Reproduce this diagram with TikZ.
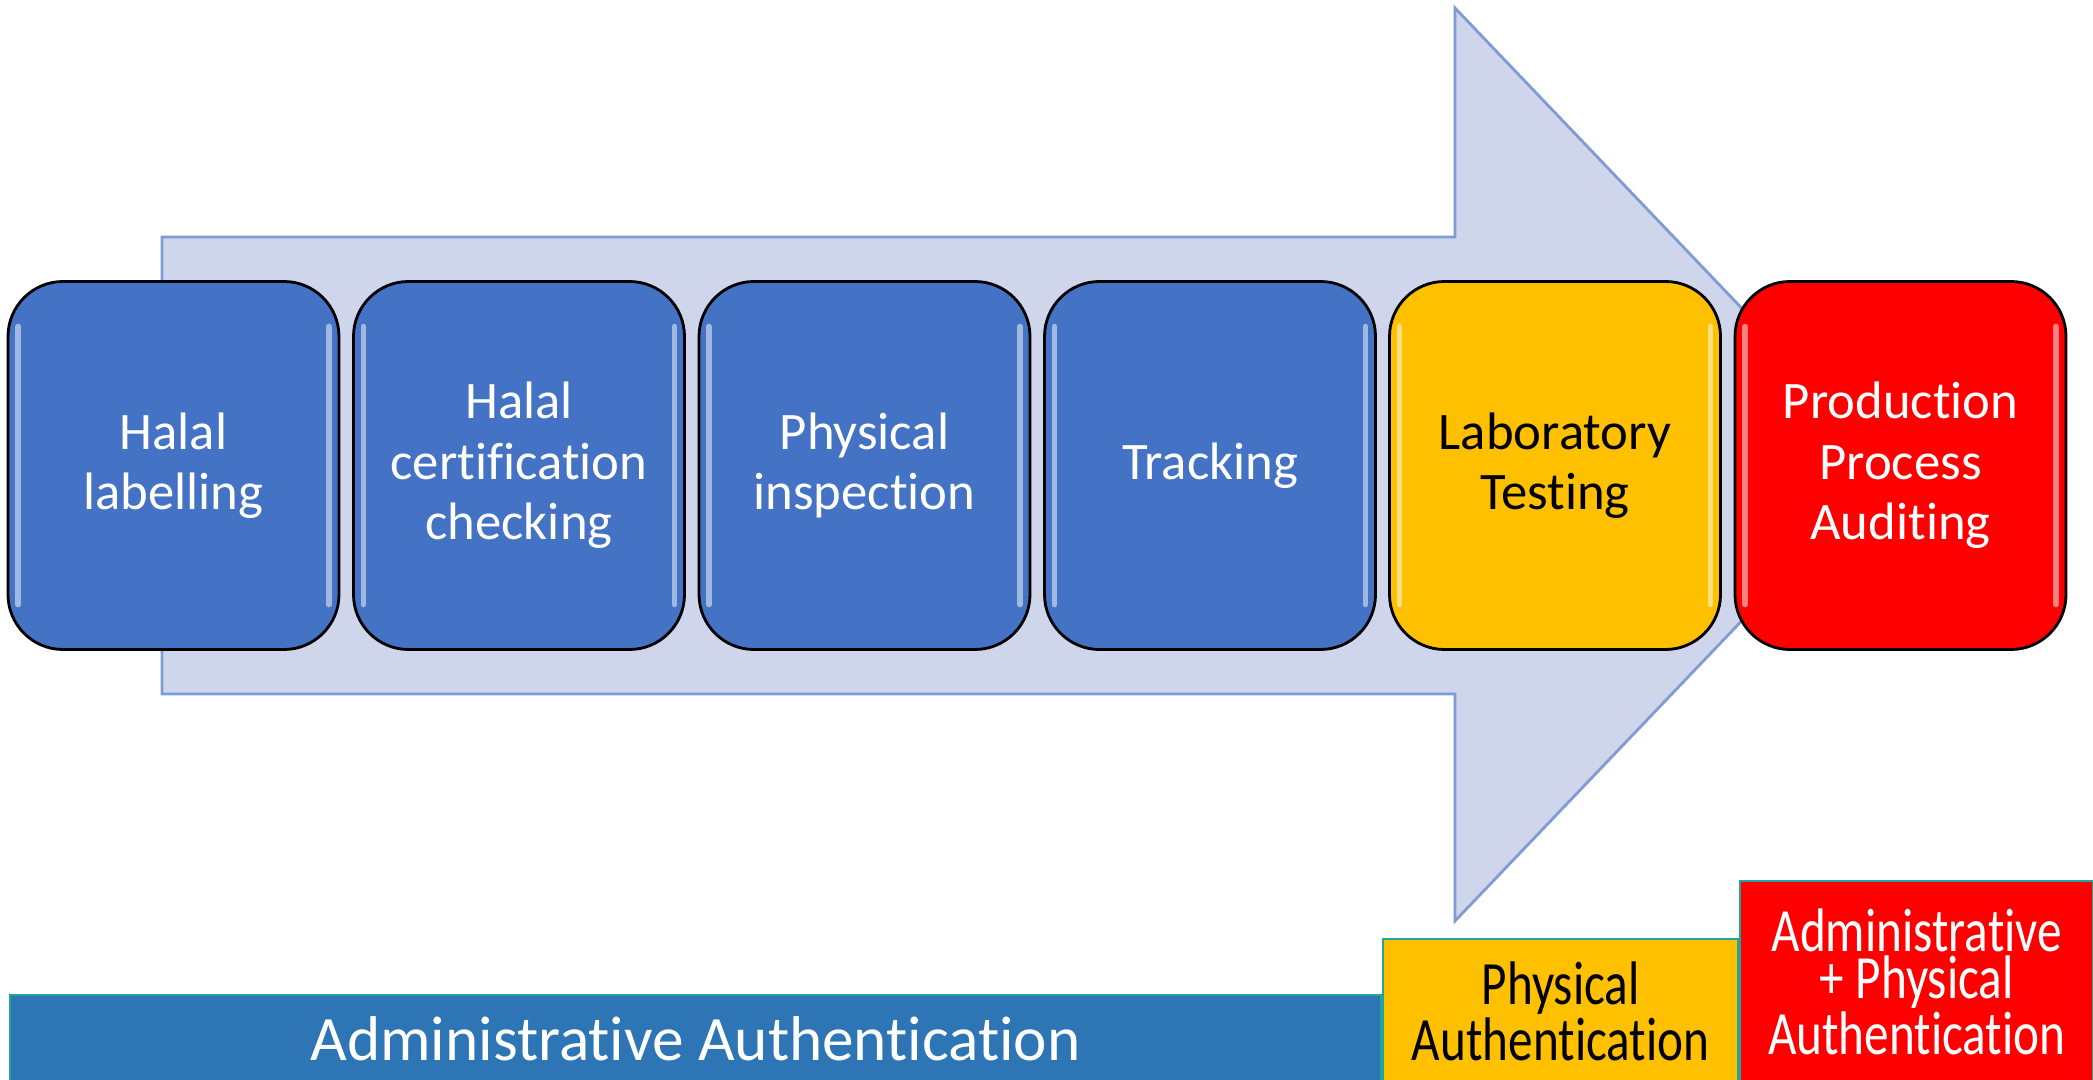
\documentclass[tikz,border=0pt]{standalone}
\usepackage{fontspec}
\setmainfont{Carlito}[Ligatures=NoCommon]
\newfontfamily\narrowfont{Carlito}[Ligatures=NoCommon, FakeStretch=0.8]

\definecolor{arrowfill}{HTML}{CFD5EA}
\definecolor{arrowline}{HTML}{7F9CD4}
\definecolor{stepblue}{HTML}{4472C4}
\definecolor{stepyellow}{HTML}{FFC000}
\definecolor{stepred}{HTML}{FF0000}
\definecolor{barblue}{HTML}{2E75B6}
\definecolor{barline}{HTML}{1FA59A}

\begin{document}
\begin{tikzpicture}
    \useasboundingbox (0, 0) rectangle (20.93, 10.79);

    \filldraw[fill=arrowfill, draw=arrowline, line width=0.8pt]
        (1.62, 8.42) -- (14.55, 8.42) -- (14.55, 10.71) -- (18.91, 6.145)
        -- (14.55, 1.58) -- (14.55, 3.85) -- (1.62, 3.85) -- cycle;

    \begin{scope}[every node/.style={draw, line width=0.8pt, rounded corners=0.55cm,
            minimum width=3.31cm, minimum height=3.68cm, inner sep=0pt, align=center,
            font=\fontsize{15}{17.2}\selectfont,
            path picture={
                \draw[white, opacity=0.5, line width=1.6pt, line cap=round]
                    ([shift={(0.1, 0.45)}]path picture bounding box.south west) --
                    ([shift={(0.1, -0.45)}]path picture bounding box.north west);
                \draw[white, opacity=0.5, line width=1.6pt, line cap=round]
                    ([shift={(-0.1, 0.45)}]path picture bounding box.south east) --
                    ([shift={(-0.1, -0.45)}]path picture bounding box.north east);}}]
        \node[fill=stepblue, text=white]   (Hl) at (1.735, 6.135)  {Halal\\labelling};
        \node[fill=stepblue, text=white]   (Hc) at (5.19, 6.135)   {Halal\\certification\\checking};
        \node[fill=stepblue, text=white]   (Pi) at (8.645, 6.135)  {Physical\\inspection};
        \node[fill=stepblue, text=white]   (Tr) at (12.10, 6.135)  {Tracking};
        \node[fill=stepyellow, text=black] (Lt) at (15.55, 6.135)  {Laboratory\\Testing};
        \node[fill=stepred, text=white]    (Pa) at (19.005, 6.135) {Production\\Process\\Auditing};
    \end{scope}

    \begin{scope}[every node/.style={draw=barline, line width=0.6pt, inner sep=0pt,
            align=center, anchor=south west}]
        \node[fill=barblue, text=white, minimum width=13.71cm, minimum height=0.88cm,
            font=\fontsize{18}{21}\selectfont] (Aa) at (0.09, -0.05)
            {Administrative Authentication};
        \node[fill=stepyellow, text=black, minimum width=3.55cm, minimum height=1.44cm,
            font=\narrowfont\fontsize{17.5}{11.8}\selectfont] (Ph) at (Aa.south east)
            {Physical\\Authentication};
        \node[fill=stepred, text=white, minimum width=3.53cm, minimum height=2.02cm,
            font=\narrowfont\fontsize{17.5}{12.2}\selectfont] (Ap) at (Ph.south east)
            {Administrative\\+ Physical\\Authentication};
    \end{scope}
\end{tikzpicture}
\end{document}
